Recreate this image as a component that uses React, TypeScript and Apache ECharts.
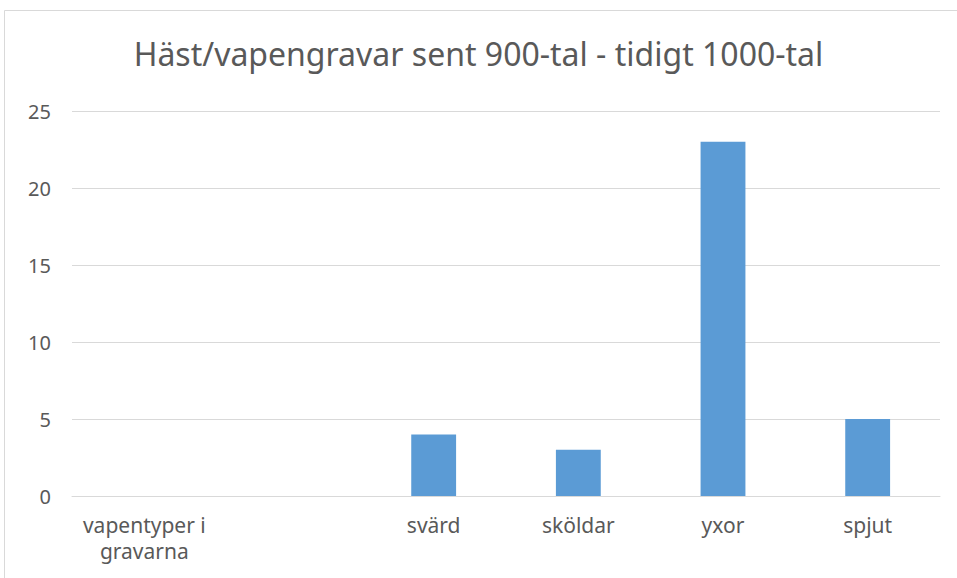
import React, { useEffect, useRef } from "react";
import * as echarts from "echarts";

const title = "Häst/vapengravar sent 900-tal - tidigt 1000-tal";
const categories = ["vapentyper i\ngravarna", "", "svärd", "sköldar", "yxor", "spjut"];
const values: (number | null)[] = [null, null, 4, 3, 23, 5];
const yMax = 25;
const yInterval = 5;

export default function App() {
  const ref = useRef<HTMLDivElement>(null);
  useEffect(() => {
    if (!ref.current) return;
    const chart = echarts.init(ref.current, null, { renderer: "svg" });
    const font = "'Noto Sans', sans-serif";
    chart.setOption({
      animation: false,
      backgroundColor: "#ffffff",
      title: {
        text: title,
        left: "center",
        top: 32,
        textStyle: { fontFamily: font, fontSize: 32, fontWeight: "normal", color: "#595959" },
      },
      graphic: [
        {
          type: "rect",
          shape: { x: 4.5, y: 10.5, width: 980, height: 600 },
          style: { fill: "none", stroke: "#d9d9d9", lineWidth: 1 },
          silent: true,
        },
      ],
      grid: { left: 72, right: 17, top: 111, bottom: 82, containLabel: false },
      xAxis: {
        type: "category",
        data: categories,
        axisLine: { show: true, lineStyle: { color: "#d9d9d9", width: 1 } },
        axisTick: { show: false },
        axisLabel: {
          interval: 0,
          margin: 16,
          fontFamily: font,
          fontSize: 21,
          color: "#595959",
          lineHeight: 26,
        },
      },
      yAxis: {
        type: "value",
        min: 0,
        max: yMax,
        interval: yInterval,
        axisLine: { show: false },
        axisTick: { show: false },
        splitLine: { lineStyle: { color: "#d9d9d9", width: 1 } },
        axisLabel: { fontFamily: font, fontSize: 20, color: "#595959", margin: 21 },
      },
      series: [
        {
          type: "bar",
          data: values,
          barWidth: "31%",
          itemStyle: { color: "#5b9bd5" },
        },
      ],
    });
    return () => chart.dispose();
  }, []);
  return <div ref={ref} style={{ width: 957, height: 578, position: "absolute", left: 0, top: 0 }} />;
}
